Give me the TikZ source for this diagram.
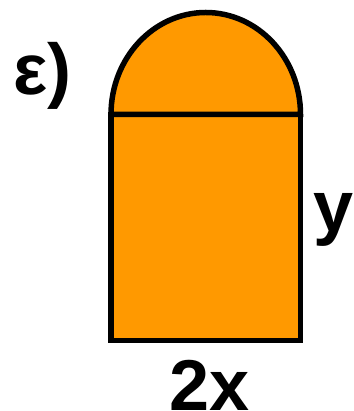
\documentclass[tikz,border=0pt]{standalone}
\usepackage{fontspec}
\setmainfont{Liberation Sans}
\usetikzlibrary{positioning}
\definecolor{fillorange}{HTML}{FF9900}

\begin{document}
\begin{tikzpicture}[x=1pt,y=1pt,every node/.style={font=\fontsize{72}{72}\selectfont\bfseries,inner sep=0pt},
  archpart/.style={draw=black,fill=fillorange,line width=5.5pt}]
\useasboundingbox (0,0) rectangle (353,411);
% rectangle and half ellipse on top
\filldraw[archpart] (111,70.5) rectangle (300.5,296.5);
\filldraw[archpart] (111,296.5) arc[start angle=180,end angle=0,x radius=94.75,y radius=102] -- cycle;
\node[anchor=base west] (lbl) at (13,316) {ε)};
\node[anchor=base west] (side) at (313,179) {y};
\node[anchor=base] (bottom) at (209.5,1) {2x};
\end{tikzpicture}
\end{document}
